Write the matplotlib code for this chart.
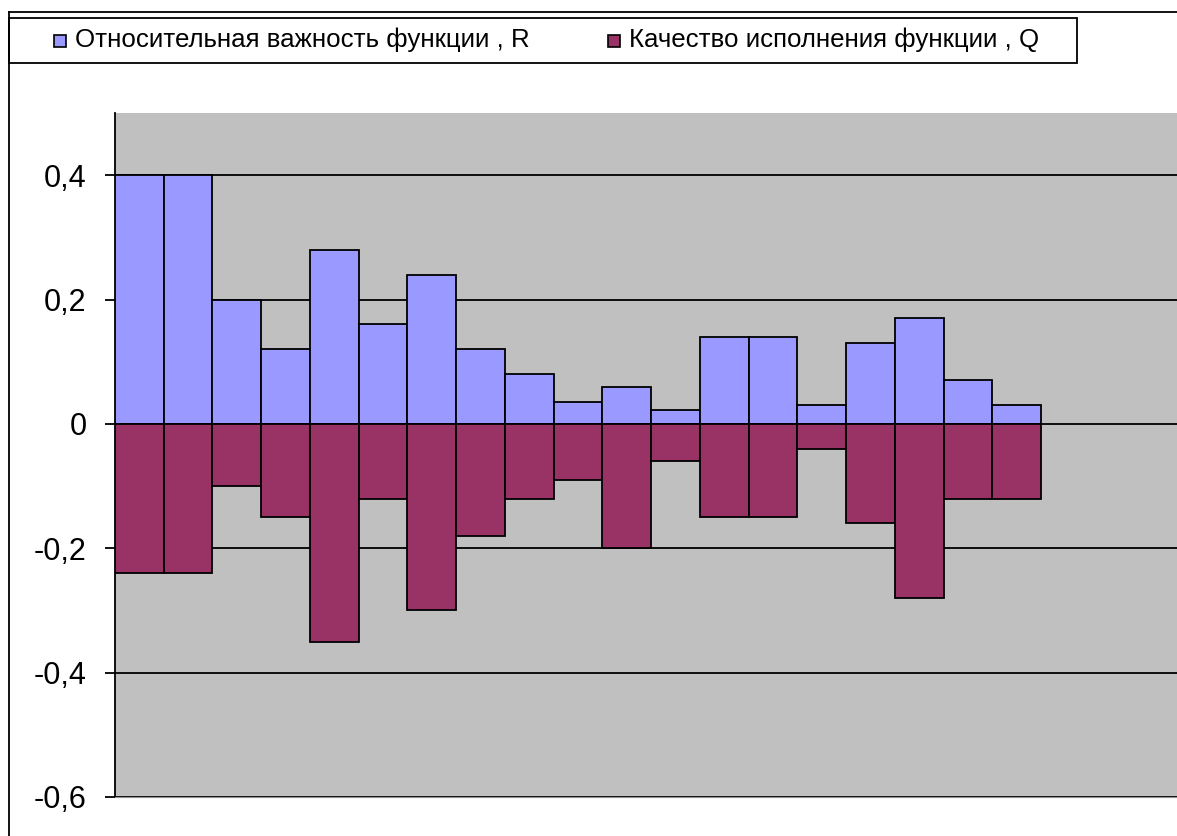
import matplotlib.pyplot as plt
from matplotlib.patches import Rectangle
from matplotlib.lines import Line2D
import numpy as np

plt.rcParams['font.family'] = ['Liberation Sans', 'DejaVu Sans']

# relative importance of a function, R (positive) and quality, Q (negative)
R = [0.40, 0.40, 0.20, 0.12, 0.28, 0.16, 0.24, 0.12, 0.08, 0.035,
     0.06, 0.022, 0.14, 0.14, 0.03, 0.13, 0.17, 0.07, 0.03]
Q = [-0.24, -0.24, -0.10, -0.15, -0.35, -0.12, -0.30, -0.18, -0.12, -0.09,
     -0.20, -0.06, -0.15, -0.15, -0.04, -0.16, -0.28, -0.12, -0.12]
labels = ['Относительная важность функции , R', 'Качество исполнения функции , Q']
yticks = [0.4, 0.2, 0, -0.2, -0.4, -0.6]
n_slots = 22

W, H = 1177, 836
fig = plt.figure(figsize=(W / 100, H / 100), dpi=100)

# plot area in pixels
left, top, bottom = 115, 113, 797
slot = 48.74
ax = fig.add_axes([left / W, 1 - bottom / H, n_slots * slot / W, (bottom - top) / H])
ax.set_facecolor('#C0C0C0')

x = np.arange(len(R))
ax.bar(x, R, width=1.0, color='#9999FF', edgecolor='black', linewidth=1.3, zorder=3)
ax.bar(x, Q, width=1.0, color='#993366', edgecolor='black', linewidth=1.3, zorder=3)

ax.set_xlim(-0.5, n_slots - 0.5)
ax.set_ylim(-0.6, 0.5)
ax.set_yticks(yticks)
ax.set_yticklabels([('%g' % v).replace('.', ',') for v in yticks], fontsize=22)
ax.set_xticks([])
for t in yticks:
    ax.axhline(t, color='black', linewidth=1.3, zorder=1)
ax.tick_params(axis='y', length=7.5, width=1.3, pad=13)
for s in ['top', 'right']:
    ax.spines[s].set_visible(False)
ax.spines['left'].set_linewidth(1.3)
ax.spines['bottom'].set_color('#909090')

# chart area border (top and left)
fig.add_artist(Line2D([9 / W, 1], [1 - 12 / H, 1 - 12 / H], color='black', lw=1.3))
fig.add_artist(Line2D([9 / W, 9 / W], [0, 1 - 12 / H], color='black', lw=1.3))

# legend box
fig.add_artist(Rectangle((9 / W, 1 - 63 / H), (1077 - 9) / W, (63 - 18) / H,
                         transform=fig.transFigure, facecolor='white',
                         edgecolor='black', lw=1.3))
colors = ['#9999FF', '#993366']
lx = [54, 608]
for xi, lab, c in zip(lx, labels, colors):
    fig.add_artist(Rectangle((xi / W, 1 - 47 / H), 12 / W, 12 / H,
                             transform=fig.transFigure, facecolor=c,
                             edgecolor='black', lw=1.2))
    fig.text((xi + 21) / W, 1 - 40 / H, lab, fontsize=18.6, va='center', ha='left')

fig.savefig('out.png', dpi=100)
